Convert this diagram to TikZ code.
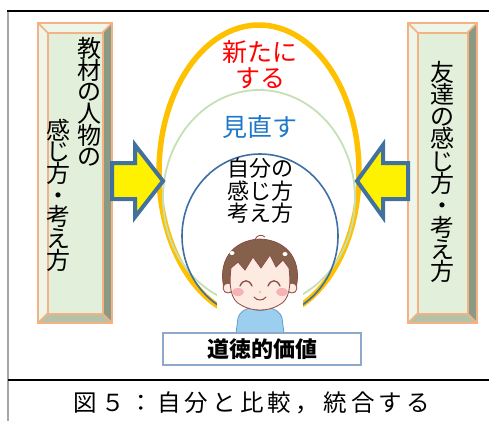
\documentclass[tikz,border=0pt]{standalone}
\usepackage{fontspec}
\setmainfont{Noto Sans CJK JP}
\newfontfamily\capfont[LetterSpace=18]{Noto Sans CJK JP}

\definecolor{ringorange}{HTML}{FFC000}
\definecolor{ringgreen}{HTML}{C5E0B4}
\definecolor{ringblue}{HTML}{3E6FA3}
\definecolor{arrowedge}{HTML}{41719C}
\definecolor{bevelline}{HTML}{F4B183}
\definecolor{bevelface}{HTML}{E2EFDA}
\definecolor{bevellight}{HTML}{EEF5E9}
\definecolor{beveldark}{HTML}{8B9A83}
\definecolor{bevelmid}{HTML}{B4C3A7}
\definecolor{valueedge}{HTML}{8EA9C9}
\definecolor{newred}{HTML}{FF0000}
\definecolor{reviewblue}{HTML}{1E78C8}
\definecolor{hairbrown}{HTML}{85604A}
\definecolor{linebrown}{HTML}{8E4A45}
\definecolor{skin}{HTML}{FDEBE2}
\definecolor{cheek}{HTML}{F6B2B4}
\definecolor{shirt}{HTML}{9CCEF0}
\definecolor{shirtedge}{HTML}{6A98C4}

\tikzstyle{blockarrow}=[draw=arrowedge,line width=4pt,fill=yellow,line join=miter]
\tikzstyle{vtext}=[inner sep=0pt,align=center,font=\fontsize{24}{21.7}\selectfont\lineskiplimit-40pt]
\tikzstyle{ringtext}=[inner sep=0pt,align=center]
\tikzstyle{valuebox}=[draw=valueedge,line width=1.5pt,minimum width=198pt,minimum height=32pt,font=\bfseries\fontsize{22}{26}\selectfont]

% bevelled panel: x1 y1 x2 y2 (y runs downwards)
\newcommand{\bevelbox}[4]{%
  \fill[bevelface] (#1,#2) rectangle (#3,#4);
  \fill[bevellight] (#1,#2) -- (#3,#2) -- (#3-9.5,#2+9.5) -- (#1+9.5,#2+9.5)
        -- (#1+9.5,#4-9.5) -- (#1,#4) -- cycle;
  \fill[beveldark] (#3,#2) -- (#3,#4) -- (#3-9.5,#4-9.5) -- (#3-9.5,#2+9.5) -- cycle;
  \fill[bevelmid] (#1,#4) -- (#3,#4) -- (#3-9.5,#4-9.5) -- (#1+9.5,#4-9.5) -- cycle;
  \draw[bevelline,line width=2.5pt] (#1,#2) rectangle (#3,#4);
  \draw[bevelline,line width=2pt] (#1+9.5,#2+9.5) rectangle (#3-9.5,#4-9.5);
  \draw[bevelline,line width=1.5pt] (#1,#2) -- (#1+9.5,#2+9.5) (#3,#2) -- (#3-9.5,#2+9.5)
        (#1,#4) -- (#1+9.5,#4-9.5) (#3,#4) -- (#3-9.5,#4-9.5);
}

\begin{document}
\begin{tikzpicture}[x=1pt,y=-1pt]
  \useasboundingbox (0,0) rectangle (489,421);

  % frame
  \draw[gray!70,line width=1.2pt] (8,11) -- (8,421);
  \draw[line width=2pt] (7,11) -- (489,11);
  \draw[line width=2pt] (8,380) -- (489,380);

  % rings
  \draw[ringorange,line width=5.5pt] (259,172) ellipse [x radius=100pt,y radius=147pt];
  \draw[ringgreen,line width=1.8pt] (259,198) ellipse [x radius=96pt,y radius=108pt];
  \draw[ringblue,line width=1.6pt] (260,236) ellipse [x radius=78pt,y radius=82pt];

  % boy
  \fill[white] (217,236) rectangle (303,333);
  \filldraw[fill=shirt,draw=shirtedge,line width=0.8pt] (236,333) -- (238,318)
        .. controls (240,311) and (246,309) .. (252,307) -- (268,307)
        .. controls (274,309) and (280,311) .. (282,318) -- (284,333) -- cycle;
  \draw[shirtedge,line width=0.8pt] (251,307) .. controls (255,312) and (265,312) .. (269,307);
  \filldraw[fill=hairbrown,draw=linebrown,line width=0.8pt] (225,292)
        .. controls (216,262) and (232,240) .. (260,239)
        .. controls (288,240) and (304,262) .. (295,292) -- cycle;
  \draw[linebrown,line width=0.8pt] (255,240) .. controls (256,235) and (262,234) .. (265,237);
  \fill[white] (232,253) ellipse [x radius=2.5pt,y radius=2pt];
  \fill[white] (285,254) ellipse [x radius=2.5pt,y radius=2pt];
  \filldraw[fill=skin,draw=linebrown,line width=0.8pt] (228,288) circle [radius=5pt];
  \filldraw[fill=skin,draw=linebrown,line width=0.8pt] (292,288) circle [radius=5pt];
  \filldraw[fill=skin,draw=linebrown,line width=0.8pt] (231,268) -- (238,262) -- (245,270)
        -- (253,257) -- (261,268) -- (270,255) -- (276,267) -- (283,260) -- (289,268)
        .. controls (291,285) and (290,300) .. (279,305)
        .. controls (272,309) and (266,310) .. (260,310)
        .. controls (254,310) and (248,309) .. (241,305)
        .. controls (230,300) and (229,285) .. cycle;
  \fill[cheek] (238,292) ellipse [x radius=6pt,y radius=4pt];
  \fill[cheek] (282,292) ellipse [x radius=6pt,y radius=4pt];
  \draw[linebrown,line width=1.3pt,line cap=round] (240,286) .. controls (243,279) and (249,279) .. (252,286);
  \draw[linebrown,line width=1.3pt,line cap=round] (268,286) .. controls (271,279) and (277,279) .. (280,286);
  \fill[linebrown] (260,292) circle [radius=0.7pt];
  \draw[linebrown,line width=1pt,line cap=round] (254,297) .. controls (257,301) and (263,301) .. (266,297);

  % side panels
  \bevelbox{38}{23}{112}{323}
  \bevelbox{408}{23}{477}{323}

  % block arrows
  \filldraw[blockarrow] (112,163) -- (135,163) -- (135,145) -- (163,181) -- (135,217)
        -- (135,199) -- (112,199) -- cycle;
  \filldraw[blockarrow] (408,163) -- (383,163) -- (383,145) -- (357,181) -- (383,217)
        -- (383,199) -- (408,199) -- cycle;

  % texts
  \node (lefttop) at (89,102) [vtext] {教\\材\\の\\人\\物\\の};
  \node (leftlow) at (58,195) [vtext] {感\\じ\\方\\・\\考\\え\\方};
  \node (righttext) at (442,172) [vtext,font=\fontsize{24}{22.1}\selectfont\lineskiplimit-40pt]
        {友\\達\\の\\感\\じ\\方\\・\\考\\え\\方};
  \node (renew) at (260,65) [ringtext,text=newred,font=\fontsize{25}{26}\selectfont] {新たに\\する};
  \node (review) at (260,127) [ringtext,text=reviewblue,font=\fontsize{25}{26}\selectfont] {見直す};
  \node (self) at (260,191) [ringtext,font=\fontsize{22}{22.5}\selectfont] {自分の\\感じ方\\考え方};
  \node (value) at (262,349) [valuebox] {道徳的価値};
  \node (caption) at (252,403) [inner sep=0pt,font=\capfont\fontsize{23.5}{26}\selectfont] {図５：自分と比較，統合する};
\end{tikzpicture}
\end{document}
